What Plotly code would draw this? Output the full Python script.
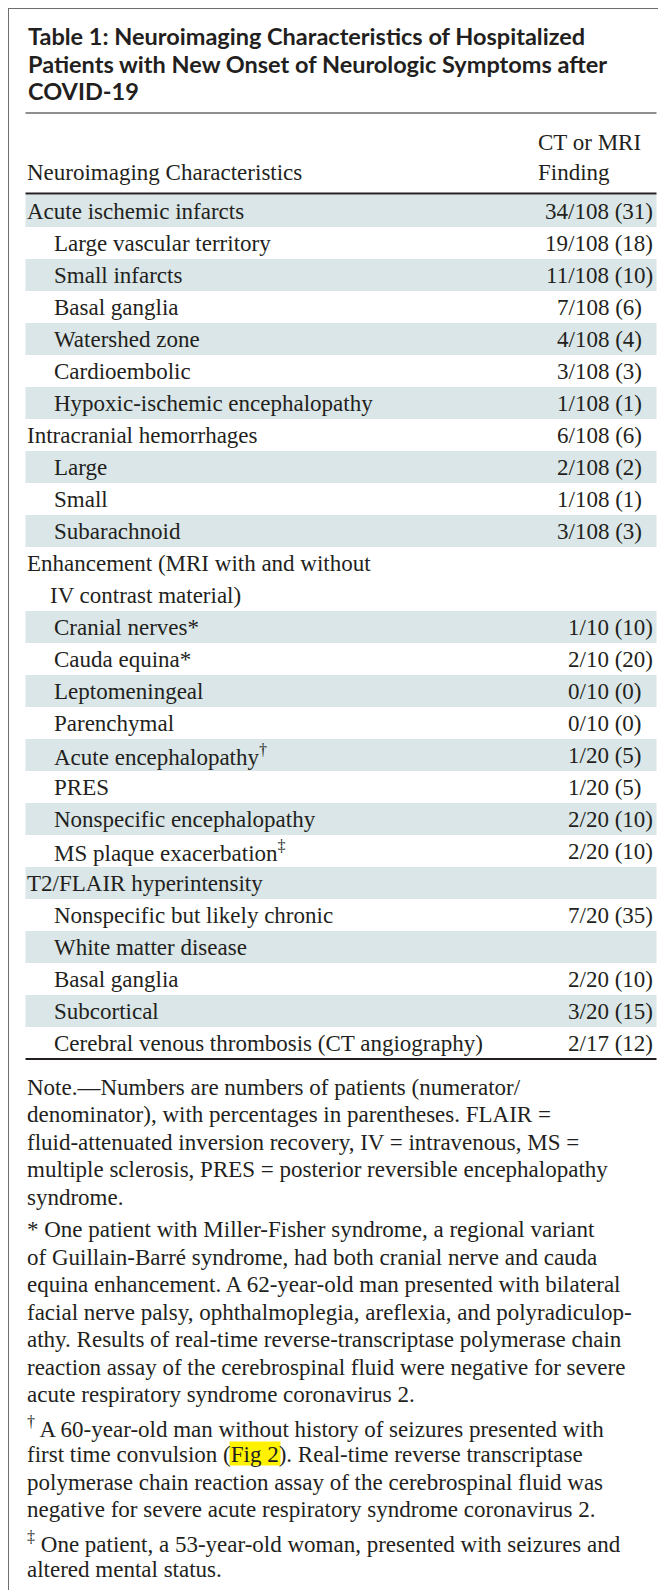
import plotly.graph_objects as go

W, H = 666, 1590

title_lines = [
    "Table 1: Neuroimaging Characteristics of Hospitalized",
    "Patients with New Onset of Neurologic Symptoms after",
    "COVID-19",
]
label_header = "Neuroimaging Characteristics"
value_header = ["CT or MRI", "Finding"]

# "|" marks where a long label wraps onto a second line
labels = [
    "Acute ischemic infarcts",
    "Large vascular territory",
    "Small infarcts",
    "Basal ganglia",
    "Watershed zone",
    "Cardioembolic",
    "Hypoxic-ischemic encephalopathy",
    "Intracranial hemorrhages",
    "Large",
    "Small",
    "Subarachnoid",
    "Enhancement (MRI with and without|IV contrast material)",
    "Cranial nerves*",
    "Cauda equina*",
    "Leptomeningeal",
    "Parenchymal",
    "Acute encephalopathy<sup>†</sup>",
    "PRES",
    "Nonspecific encephalopathy",
    "MS plaque exacerbation<sup>‡</sup>",
    "T2/FLAIR hyperintensity",
    "Nonspecific but likely chronic",
    "White matter disease",
    "Basal ganglia",
    "Subcortical",
    "Cerebral venous thrombosis (CT angiography)",
]
depth = [0, 1, 1, 1, 1, 1, 1, 0, 1, 1, 1, 0, 1, 1, 1, 1, 1, 1, 1, 1, 0, 1, 1, 1, 1, 1]
numerators = [34, 19, 11, 7, 4, 3, 1, 6, 2, 1, 3, None, 1, 2, 0, 0, 1, 1, 2, 2,
              None, 7, None, 2, 3, 2]
denominators = [108, 108, 108, 108, 108, 108, 108, 108, 108, 108, 108, None,
                10, 10, 10, 10, 20, 20, 20, 20, None, 20, None, 20, 20, 17]
percents = [31, 18, 10, 6, 4, 3, 1, 6, 2, 1, 3, None, 10, 20, 0, 0, 5, 5, 10, 10,
            None, 35, None, 10, 15, 12]

notes = [
    ["Note.—Numbers are numbers of patients (numerator/",
     "denominator), with percentages in parentheses. FLAIR =",
     "fluid-attenuated inversion recovery, IV = intravenous, MS =",
     "multiple sclerosis, PRES = posterior reversible encephalopathy",
     "syndrome."],
    ["* One patient with Miller-Fisher syndrome, a regional variant",
     "of Guillain-Barré syndrome, had both cranial nerve and cauda",
     "equina enhancement. A 62-year-old man presented with bilateral",
     "facial nerve palsy, ophthalmoplegia, areflexia, and polyradiculop-",
     "athy. Results of real-time reverse-transcriptase polymerase chain",
     "reaction assay of the cerebrospinal fluid were negative for severe",
     "acute respiratory syndrome coronavirus 2."],
    ["<sup>†</sup> A 60-year-old man without history of seizures presented with",
     "first time convulsion (Fig 2). Real-time reverse transcriptase",
     "polymerase chain reaction assay of the cerebrospinal fluid was",
     "negative for severe acute respiratory syndrome coronavirus 2."],
    ["<sup>‡</sup> One patient, a 53-year-old woman, presented with seizures and",
     "altered mental status."],
]
highlight_word = "Fig 2"

INK = "#231f20"
SHADE = "#dae6e7"
SERIF = "Liberation Serif"
SANS = "Lato"
BODY = 23

LEFT, RIGHT = 17.5, 648.5
TEXT_X = 18
INDENT = 27
ROW_H = 32
TABLE_TOP = 187
NOTE_TOP = 1079
NOTE_STEP = 27.5
NOTE_GAP = 5

shapes = []
annotations = []


def text(x, y, s, size=BODY, family=SERIF, anchor="left", weight=None):
    font = dict(family=family, size=size, color=INK)
    if weight:
        font["weight"] = weight
    annotations.append(dict(x=x, y=y, xref="x", yref="y", text=s, showarrow=False,
                            xanchor=anchor, yanchor="middle", align=anchor,
                            borderpad=0, font=font))


def rule(y, width):
    shapes.append(dict(type="line", xref="x", yref="y", x0=LEFT, x1=RIGHT, y0=y, y1=y,
                       line=dict(color=INK, width=width)))


# title
for k, line in enumerate(title_lines):
    text(TEXT_X + 1, 28 + k * 27.5, line, size=23.5, family=SANS, weight="bold")
rule(105, 1.2)

# column header
text(529, 134, value_header[0])
text(529, 164, value_header[1])
text(TEXT_X, 164, label_header)
rule(185.5, 2)

# body rows
y = TABLE_TOP
for i, label in enumerate(labels):
    parts = label.split("|")
    h = ROW_H * len(parts)
    if i % 2 == 0:
        shapes.append(dict(type="rect", xref="x", yref="y", x0=LEFT, x1=RIGHT,
                           y0=y, y1=y + h, fillcolor=SHADE, line=dict(width=0),
                           layer="below"))
    for j, part in enumerate(parts):
        x = TEXT_X + depth[i] * INDENT + (23 if j > 0 else 0)
        text(x, y + ROW_H * (j + 0.5), part)
    if numerators[i] is not None:
        val = f"{numerators[i]}/{denominators[i]} ({percents[i]})"
        if percents[i] < 10:
            val += "\u2007"
        text(646, y + ROW_H / 2, val, anchor="right")
    y += h
rule(y, 2)

# notes
k = 0
for p, para in enumerate(notes):
    for line in para:
        yy = NOTE_TOP + k * NOTE_STEP + p * NOTE_GAP
        if highlight_word in line:
            shapes.append(dict(type="rect", xref="x", yref="y", x0=221.5, x1=272.5,
                               y0=yy - 13, y1=yy + 11, fillcolor="#fff200",
                               line=dict(width=0), layer="below"))
        text(TEXT_X, yy, line)
        k += 1

# frame
shapes.append(dict(type="line", xref="x", yref="y", x0=0.5, x1=0.5, y0=0, y1=H,
                   line=dict(color="#6e6e6e", width=1)))
shapes.append(dict(type="line", xref="x", yref="y", x0=0, x1=W, y0=0.5, y1=0.5,
                   line=dict(color="#6e6e6e", width=1)))
shapes.append(dict(type="line", xref="x", yref="y", x0=W - 1.5, x1=W - 1.5, y0=0, y1=H,
                   line=dict(color="#4a4a4a", width=3)))
shapes.append(dict(type="line", xref="x", yref="y", x0=0, x1=W, y0=H - 1.5, y1=H - 1.5,
                   line=dict(color="#4a4a4a", width=3)))

fig = go.Figure()
fig.update_layout(
    width=W, height=H,
    margin=dict(l=0, r=0, t=0, b=0),
    paper_bgcolor="white", plot_bgcolor="white",
    xaxis=dict(range=[0, W], visible=False, fixedrange=True),
    yaxis=dict(range=[H, 0], visible=False, fixedrange=True),
    shapes=shapes, annotations=annotations,
    showlegend=False,
)
fig.write_html("out.html")
